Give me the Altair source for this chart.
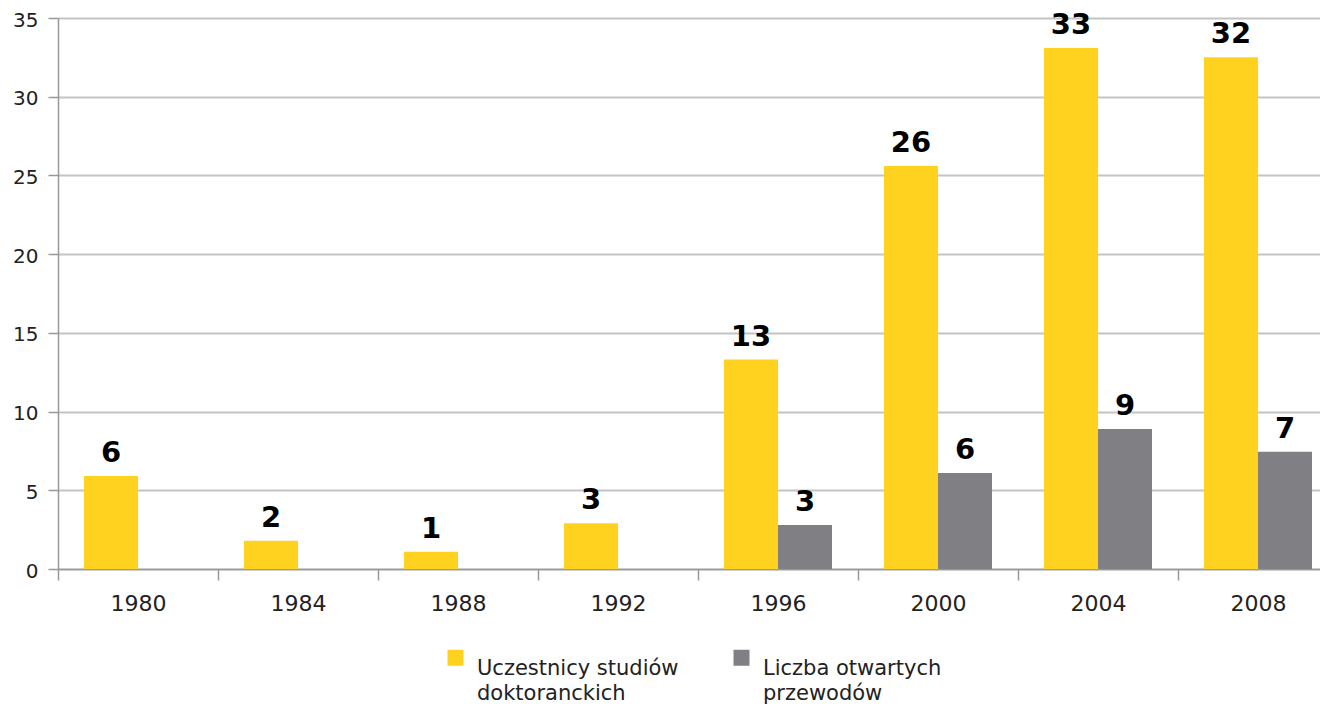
import altair as alt
import pandas as pd

years = ["1980", "1984", "1988", "1992", "1996", "2000", "2004", "2008"]
participants = [5.9, 1.8, 1.1, 2.9, 13.3, 25.6, 33.1, 32.5]
participant_labels = ["6", "2", "1", "3", "13", "26", "33", "32"]
opened = [0, 0, 0, 0, 2.8, 6.1, 8.9, 7.45]
opened_labels = ["", "", "", "", "3", "6", "9", "7"]
series = ["Uczestnicy studiów doktoranckich", "Liczba otwartych przewodów"]
colors = ["#FFD220", "#807F84"]

rows = []
for i, yr in enumerate(years):
    rows.append(dict(year=yr, series=series[0], value=participants[i], label=participant_labels[i]))
    rows.append(dict(year=yr, series=series[1], value=opened[i], label=opened_labels[i]))
df = pd.DataFrame(rows)

FONT = "DejaVu Sans"

x = alt.X(
    "year:N",
    sort=years,
    scale=alt.Scale(paddingInner=0, paddingOuter=0),
    axis=alt.Axis(
        title=None, labelAngle=0, tickBand="extent", labelFontSize=22,
        labelColor="#222222", labelFont=FONT, tickSize=11, tickColor="#999999",
        domainColor="#999999", domainWidth=1.5, tickWidth=1.5, labelPadding=13, grid=False,
    ),
)
xo = alt.XOffset(
    "series:N", sort=series,
    scale=alt.Scale(domain=series, paddingInner=0, paddingOuter=0.4815),
)
y = alt.Y(
    "value:Q",
    scale=alt.Scale(domain=[0, 35]),
    axis=alt.Axis(
        title=None, values=list(range(0, 36, 5)), tickSize=10, labelPadding=10,
        labelFontSize=20, labelFont=FONT, labelColor="#222222", labelOffset=2,
        gridColor="#c4c4c4", gridWidth=2, domainColor="#999999", domainWidth=1.5,
        tickColor="#999999", tickWidth=1.5,
    ),
)
color = alt.Color(
    "series:N",
    sort=series,
    scale=alt.Scale(domain=series, range=colors),
    legend=alt.Legend(
        title=None, orient="none", direction="horizontal", legendX=387, legendY=629,
        symbolType="square", symbolSize=256, symbolStrokeWidth=0, labelFontSize=21,
        labelFont=FONT, labelColor="#222222", labelLimit=0, labelOffset=11, columnPadding=52,
        labelBaseline="top",
        labelExpr="datum.label == 'Uczestnicy studiów doktoranckich' ? ['Uczestnicy studiów', 'doktoranckich'] : ['Liczba otwartych', 'przewodów']",
    ),
)

bars = alt.Chart(df).mark_bar().encode(x=x, xOffset=xo, y=y, color=color)
text = alt.Chart(df).mark_text(
    baseline="alphabetic", dy=-14, fontSize=29, fontWeight="bold", font=FONT, color="#000000"
).encode(x=x, xOffset=xo, y=y, text="label:N")

chart = (
    alt.layer(bars, text)
    .properties(
        width=1280, height=551, autosize="none",
        padding={"left": 50, "top": 10, "right": -18, "bottom": 137},
    )
    .configure(style={"guide-label": {"lineHeight": 25}})
    .configure_view(strokeWidth=0)
)

chart.save("out.html", embed_options={"renderer": "svg", "actions": False})
